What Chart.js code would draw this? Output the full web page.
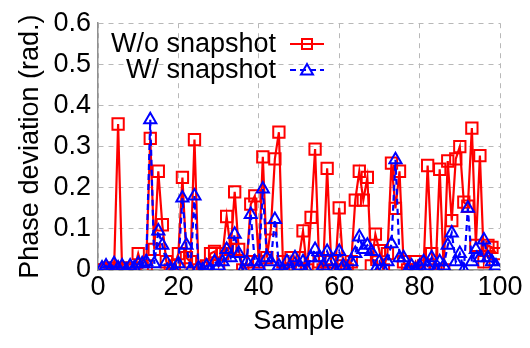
<!DOCTYPE html>
<html><head><meta charset="utf-8">
<script src="https://cdn.jsdelivr.net/npm/chart.js@4/dist/chart.umd.min.js"></script>
<style>html,body{margin:0;padding:0;background:#fff}#wrap{width:530px;height:348px}</style>
</head><body><div id="wrap"><canvas id="c" width="530" height="348"></canvas></div>
<script>
const samples = [1,2,3,4,5,6,7,8,9,10,11,12,13,14,15,16,17,18,19,20,21,22,23,24,25,26,27,28,29,30,31,32,33,34,35,36,37,38,39,40,41,42,43,44,45,46,47,48,49,50,51,52,53,54,55,56,57,58,59,60,61,62,63,64,65,66,67,68,69,70,71,72,73,74,75,76,77,78,79,80,81,82,83,84,85,86,87,88,89,90,91,92,93,94,95,96,97,98,99];
const woSnapshot = [0.0,0.0,0.005,0.0,0.355,0.0,0.005,0.0,0.0,0.04,
0.005,0.01,0.32,0.05,0.24,0.11,0.02,0.0,0.01,0.04,
0.225,0.03,0.02,0.317,0.0,0.005,0.01,0.04,0.045,0.01,
0.04,0.13,0.05,0.19,0.05,0.0,0.02,0.16,0.18,0.02,
0.275,0.03,0.1,0.27,0.335,0.02,0.0,0.03,0.0,0.03,
0.095,0.0,0.128,0.294,0.02,0.0,0.247,0.02,0.0,0.151,
0.01,0.0,0.02,0.17,0.24,0.17,0.225,0.01,0.087,0.047,
0.0,0.04,0.26,0.15,0.24,0.02,0.0,0.0,0.02,0.0,
0.01,0.254,0.04,0.0,0.245,0.0,0.265,0.12,0.27,0.30,
0.165,0.155,0.345,0.06,0.278,0.02,0.06,0.055,0.04];
const wSnapshot = [0.005,0.01,0.0,0.015,0.005,0.01,0.0,0.01,0.005,0.015,
0.015,0.02,0.365,0.015,0.095,0.06,0.02,0.0,0.0,0.015,
0.175,0.06,0.0,0.18,0.005,0.0,0.01,0.0,0.02,0.01,
0.02,0.05,0.03,0.087,0.04,0.0,0.02,0.135,0.02,0.01,
0.197,0.03,0.02,0.123,0.01,0.0,0.02,0.0,0.03,0.01,
0.02,0.0,0.03,0.05,0.03,0.01,0.045,0.02,0.0,0.045,
0.01,0.0,0.02,0.04,0.08,0.05,0.06,0.045,0.0,0.02,
0.0,0.02,0.064,0.268,0.03,0.03,0.0,0.01,0.0,0.01,
0.02,0.01,0.03,0.0,0.02,0.01,0.06,0.09,0.02,0.04,
0.0,0.15,0.02,0.05,0.03,0.073,0.03,0.02,0.01];
const xTicks = [0,20,40,60,80,100];
const yTicks = [0,0.1,0.2,0.3,0.4,0.5,0.6];
const seriesNames = ['W/o snapshot','W/ snapshot'];

const FONT = '"Liberation Sans", Arial, sans-serif';
const FS = 27;
const red = '#ff0000', blue = '#0000ff';

const legendPlugin = {
  id: 'customLegend',
  afterDraw(chart) {
    const ctx = chart.ctx;
    ctx.save();
    ctx.font = FS + 'px ' + FONT;
    ctx.textAlign = 'right';
    ctx.textBaseline = 'middle';
    ctx.fillStyle = '#000';
    const items = [
      {t: seriesNames[0], y: 44, c: red, dash: [], pt: 'rect'},
      {t: seriesNames[1], y: 70, c: blue, dash: [6,4], pt: 'tri'}
    ];
    items.forEach(it => {
      ctx.fillText(it.t, 276, it.y + 1);
      ctx.strokeStyle = it.c; ctx.lineWidth = 2; ctx.setLineDash(it.dash);
      ctx.beginPath(); ctx.moveTo(290, it.y); ctx.lineTo(324, it.y); ctx.stroke();
      ctx.setLineDash([]);
      ctx.lineWidth = 2;
      ctx.beginPath();
      if (it.pt === 'rect') { ctx.rect(302, it.y - 5, 10, 10); }
      else { ctx.moveTo(307, it.y - 6); ctx.lineTo(313, it.y + 4.5); ctx.lineTo(301, it.y + 4.5); ctx.closePath(); }
      ctx.stroke();
    });
    ctx.restore();
  }
};

const toPts = arr => samples.map((s, i) => ({x: s, y: arr[i]}));

new Chart(document.getElementById('c'), {
  type: 'line',
  data: {
    datasets: [
      {label: seriesNames[1], data: toPts(wSnapshot), borderColor: blue, borderWidth: 2.2, borderDash: [6,4],
       pointStyle: 'triangle', pointRadius: 7, pointBorderWidth: 2, pointBorderColor: blue,
       pointBackgroundColor: 'rgba(0,0,0,0)', tension: 0, order: 0},
      {label: seriesNames[0], data: toPts(woSnapshot), borderColor: red, borderWidth: 2.2,
       pointStyle: 'rect', pointRadius: 8, pointBorderWidth: 2, pointBorderColor: red,
       pointBackgroundColor: 'rgba(0,0,0,0)', tension: 0, order: 1}
    ]
  },
  options: {
    responsive: false, animation: false, devicePixelRatio: 1,
    layout: {padding: {top: 16, right: 30, left: 14, bottom: 10}},
    plugins: {legend: {display: false}, tooltip: {enabled: false}},
    scales: {
      x: {
        type: 'linear', min: 0, max: 100,
        afterBuildTicks: ax => { ax.ticks = xTicks.map(v => ({value: v})); },
        afterFit: ax => { ax.height = 68; },
        grid: {color: '#b8b8b8', lineWidth: 1, drawTicks: false},
        border: {display: true, color: '#909090', width: 1.5, dash: [5,5]},
        ticks: {font: {size: FS, family: FONT}, color: '#000', padding: 1, maxRotation: 0},
        title: {display: true, text: 'Sample', font: {size: FS, family: FONT}, color: '#000', padding: {top: 0, bottom: 0}}
      },
      y: {
        min: 0, max: 0.6,
        afterBuildTicks: ax => { ax.ticks = yTicks.map(v => ({value: v})); },
        afterFit: ax => { ax.width = 84; },
        grid: {color: '#b8b8b8', lineWidth: 1, drawTicks: false},
        border: {display: true, color: '#909090', width: 1.5, dash: [5,5]},
        ticks: {font: {size: FS, family: FONT}, color: '#000', padding: 7,
                callback: v => v === 0 ? '0' : v.toFixed(1)},
        title: {display: true, text: 'Phase deviation (rad.)', font: {size: FS, family: FONT}, color: '#000', padding: {top: 0, bottom: 0}}
      }
    }
  },
  plugins: [legendPlugin]
});
</script></body></html>
